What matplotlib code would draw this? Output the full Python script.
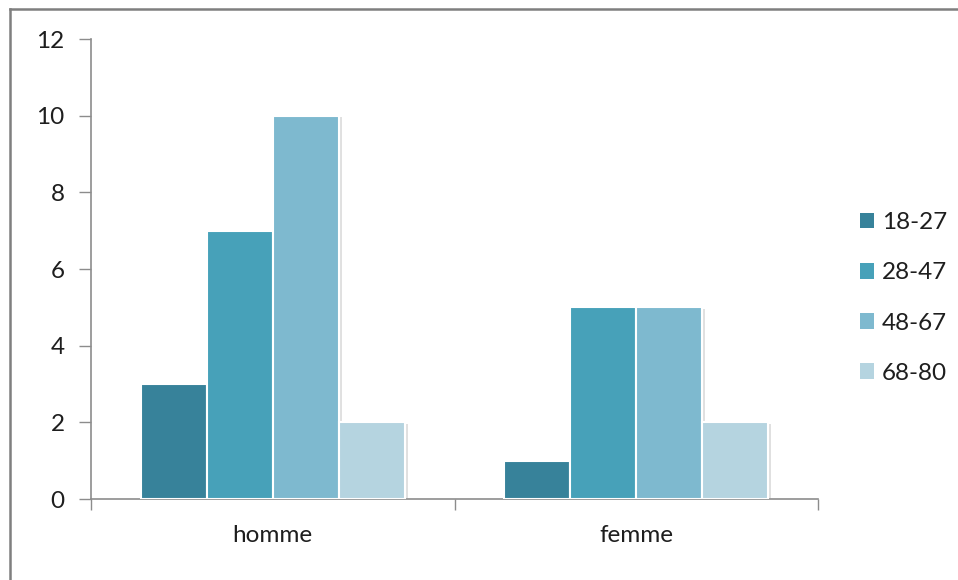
import matplotlib
matplotlib.use("Agg")
import matplotlib.pyplot as plt
from matplotlib.lines import Line2D
import matplotlib.patheffects as pe
import numpy as np

plt.rcParams['font.family'] = ['Lato', 'DejaVu Sans']

categories = ["homme", "femme"]
age_groups = ["18-27", "28-47", "48-67", "68-80"]
values = {
    "18-27": [3, 1],
    "28-47": [7, 5],
    "48-67": [10, 5],
    "68-80": [2, 2],
}
colors = ["#37829A", "#47A1B9", "#7EB9CF", "#B5D4E0"]
y_ticks = [0, 2, 4, 6, 8, 10, 12]

FS = 17.5
TXT = "#1e1e1e"

fig = plt.figure(figsize=(9.58, 5.8), dpi=100)
ax = fig.add_axes([91 / 958, 1 - 499 / 580, (818 - 91) / 958, (499 - 39) / 580])

n = len(age_groups)
gap = 1.5
width = 1.0 / (n + gap)
centers = np.arange(len(categories)) + 0.5

for i, (grp, col) in enumerate(zip(age_groups, colors)):
    offs = (i - (n - 1) / 2) * width
    ax.bar(centers + offs, values[grp], width=width, color=col,
           edgecolor="white", linewidth=1.5, label=grp, zorder=3,
           path_effects=[pe.SimplePatchShadow(offset=(2, -1), shadow_rgbFace="#9a9a9a", alpha=0.3),
                         pe.Normal()])

ax.set_xlim(0, len(categories))
ax.set_ylim(0, 12)
ax.set_yticks(y_ticks)
ax.set_xticks(np.arange(len(categories) + 1))
ax.set_xticklabels([])
ax.set_xticks(centers, minor=True)
ax.set_xticklabels(categories, minor=True)

for s in ["top", "right"]:
    ax.spines[s].set_visible(False)
for s in ["left", "bottom"]:
    ax.spines[s].set_color("#8c8c8c")
    ax.spines[s].set_linewidth(1.2)

ax.tick_params(axis="y", which="major", length=9, width=1.0, color="#8c8c8c",
               labelsize=FS, labelcolor=TXT, pad=10)
ax.tick_params(axis="x", which="major", length=8, width=1.0, color="#8c8c8c", direction="out")
ax.tick_params(axis="x", which="minor", length=0, labelsize=FS, labelcolor=TXT, pad=19)

leg = ax.legend(loc="center left", bbox_to_anchor=(850 / 958, 1 - 298 / 580),
                bbox_transform=fig.transFigure, frameon=False, fontsize=FS,
                handlelength=0.6, handleheight=0.6, handletextpad=0.3,
                labelspacing=1.2, borderaxespad=0)
for h in leg.legend_handles:
    h.set_path_effects([])
    h.set_edgecolor("none")
for t in leg.get_texts():
    t.set_color(TXT)

# frame lines along the top and left of the figure
fig.add_artist(Line2D([9.5 / 958, 9.5 / 958], [0, 1 - 9 / 580], color="#7f7f7f", lw=1.8,
                      transform=fig.transFigure))
fig.add_artist(Line2D([9.5 / 958, 1], [1 - 9 / 580, 1 - 9 / 580], color="#7f7f7f", lw=1.8,
                      transform=fig.transFigure))

fig.savefig("out.png", dpi=100, facecolor="white")
